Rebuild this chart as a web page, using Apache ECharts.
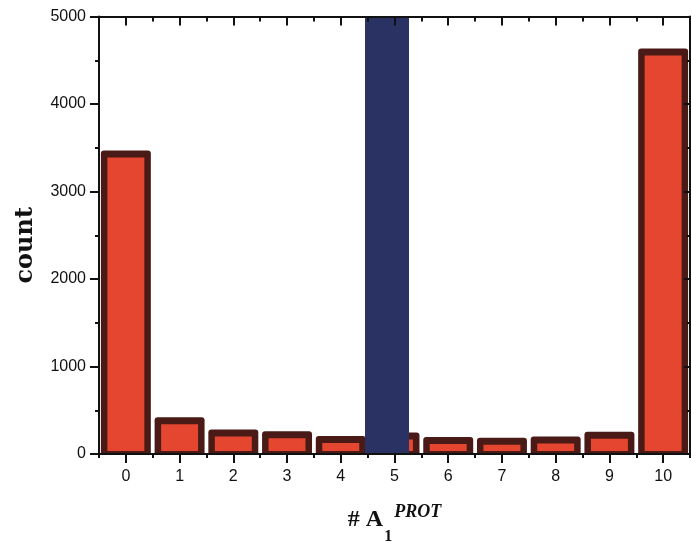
<!DOCTYPE html>
<html>
<head>
<meta charset="utf-8">
<script src="https://cdn.jsdelivr.net/npm/echarts@6/dist/echarts.min.js"></script>
<style>
  html, body { margin: 0; padding: 0; background: #ffffff; }
  #chart { width: 691px; height: 542px; }
</style>
</head>
<body>
<div id="chart"></div>
<script>
// Histogram of proteins by number of A1 sites (# A1^PROT)
const categories = ['0', '1', '2', '3', '4', '5', '6', '7', '8', '9', '10'];
const counts = [3470, 420, 280, 260, 205, 245, 195, 185, 200, 255, 4635];

// Highlighted class drawn over category 5 (runs past the top of the axis)
const highlightCategory = '5';
const highlightCount = 5600;

// Count axis ticks
const countMin = 0;
const countMax = 5000;
const countStep = 1000;

const highlightData = categories.map(c => (c === highlightCategory ? highlightCount : '-'));
const countData = categories.map((c, i) => [i, counts[i]]);

const INK = '#111111';
const FRAME = '#4a1b16';
const FILL = '#e4462f';
const NAVY = '#2a3163';
const axisLine = { show: true, onZero: false, lineStyle: { color: INK, width: 2 } };

// Framed bar: dark outer box with an inset red panel, laid out on the axis scales
function renderFramedBar(params, api) {
  const idx = api.value(0);
  const val = api.value(1);
  const top = api.coord([idx, val]);
  const base = api.coord([idx, 0]);
  const band = api.size([1, 0])[0];
  const w = band * 0.93;
  const x0 = top[0] - w / 2;
  const h = base[1] - top[1];
  return {
    type: 'group',
    children: [
      { type: 'rect', shape: { x: x0, y: top[1], width: w, height: h, r: [3, 3, 1, 1] }, style: { fill: FRAME } },
      { type: 'rect', shape: { x: x0 + 6.5, y: top[1] + 7, width: w - 13, height: Math.max(0, h - 10) }, style: { fill: FILL } }
    ]
  };
}

const chart = echarts.init(document.getElementById('chart'), null, { renderer: 'canvas' });

chart.setOption({
  animation: false,
  backgroundColor: '#ffffff',
  grid: [
    { left: 99, right: 1, top: 16.5, bottom: 88, containLabel: false, outerBoundsMode: 'none' },
    // same frame, nudged left, for the highlighted bar
    { left: 91.5, right: 8.5, top: 16.5, bottom: 88, containLabel: false, outerBoundsMode: 'none' }
  ],
  xAxis: [
    {
      type: 'category', gridIndex: 0, position: 'bottom', data: categories, z: 10,
      axisLine: axisLine,
      axisTick: { show: true, alignWithLabel: true, interval: 0, length: 9, lineStyle: { color: INK, width: 2 } },
      axisLabel: { interval: 0, margin: 15, fontSize: 16, color: INK, fontFamily: 'Liberation Sans, Arial, sans-serif' },
      splitLine: { show: false },
      name: '{a|# A}{sub|1}{sup|PROT}',
      nameLocation: 'middle',
      nameGap: 46,
      nameTextStyle: {
        rich: {
          a:   { fontFamily: 'Liberation Serif, Times New Roman, serif', fontWeight: 'bold', fontSize: 24, lineHeight: 24, color: INK, verticalAlign: 'top', padding: [8, 0, 0, 0] },
          sub: { fontFamily: 'Liberation Serif, Times New Roman, serif', fontWeight: 'bold', fontSize: 16, lineHeight: 16, color: INK, verticalAlign: 'top', padding: [29, 2, 0, 1] },
          sup: { fontFamily: 'Liberation Serif, Times New Roman, serif', fontWeight: 'bold', fontStyle: 'italic', fontSize: 18, lineHeight: 18, color: INK, verticalAlign: 'top', padding: [3, 0, 0, 0] }
        }
      }
    },
    {
      type: 'category', gridIndex: 0, position: 'bottom', data: categories, z: 10,
      axisLine: { show: false, onZero: false },
      axisTick: { show: true, alignWithLabel: false, interval: 0, length: 4, lineStyle: { color: INK, width: 2 } },
      axisLabel: { show: false },
      splitLine: { show: false }
    },
    {
      type: 'category', gridIndex: 0, position: 'top', data: categories, z: 10,
      axisLine: axisLine,
      axisTick: { show: true, inside: true, alignWithLabel: true, interval: 0, length: 9, lineStyle: { color: INK, width: 2 } },
      axisLabel: { show: false },
      splitLine: { show: false }
    },
    {
      type: 'category', gridIndex: 0, position: 'top', data: categories, z: 10,
      axisLine: { show: false, onZero: false },
      axisTick: { show: true, inside: true, alignWithLabel: false, interval: 0, length: 5, lineStyle: { color: INK, width: 2 } },
      axisLabel: { show: false },
      splitLine: { show: false }
    },
    {
      type: 'category', gridIndex: 1, data: categories, show: false
    }
  ],
  yAxis: [
    {
      type: 'value', gridIndex: 0, position: 'left', min: countMin, max: countMax, interval: countStep, z: 10,
      axisLine: axisLine,
      axisTick: { show: true, length: 9, lineStyle: { color: INK, width: 2 } },
      minorTick: { show: true, splitNumber: 2, length: 4, lineStyle: { color: INK, width: 2 } },
      axisLabel: { margin: 13, fontSize: 16, color: INK, fontFamily: 'Liberation Sans, Arial, sans-serif', formatter: v => String(v) },
      splitLine: { show: false },
      minorSplitLine: { show: false },
      name: 'count',
      nameLocation: 'middle',
      nameGap: 61,
      nameTextStyle: {
        fontFamily: 'DejaVu Serif, serif', fontWeight: 'bold', fontSize: 24, color: INK,
        padding: [0, 20, 0, 0]
      }
    },
    {
      type: 'value', gridIndex: 0, position: 'right', min: countMin, max: countMax, interval: countStep, z: 10,
      axisLine: axisLine,
      axisTick: { show: true, inside: true, length: 6, lineStyle: { color: INK, width: 2 } },
      minorTick: { show: true, splitNumber: 2, length: 3, lineStyle: { color: INK, width: 2 } },
      axisLabel: { show: false },
      splitLine: { show: false }
    },
    {
      type: 'value', gridIndex: 1, min: countMin, max: countMax, show: false, splitLine: { show: false }
    }
  ],
  series: [
    {
      type: 'custom', name: 'count', xAxisIndex: 0, yAxisIndex: 0,
      data: countData, encode: { x: 0, y: 1 },
      renderItem: renderFramedBar, z: 2, clip: true
    },
    {
      type: 'bar', name: 'highlight', xAxisIndex: 4, yAxisIndex: 2, data: highlightData,
      barWidth: 44, z: 3, clip: true,
      itemStyle: { color: NAVY, borderWidth: 0 }
    }
  ]
});
</script>
</body>
</html>
